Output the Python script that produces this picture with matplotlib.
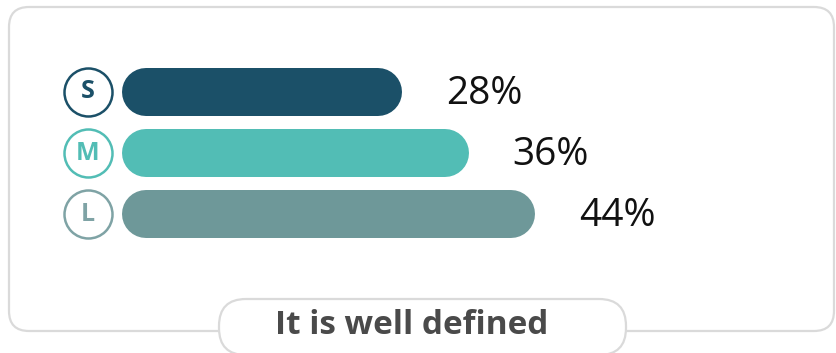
import matplotlib.pyplot as plt
from matplotlib.patches import FancyBboxPatch

plt.rcParams['font.family'] = ['Open Sans', 'DejaVu Sans']

sizes = ["S", "M", "L"]
shares = [28, 36, 44]
colors = ["#1b5068", "#52bdb5", "#6e9899"]
ring_colors = ["#1b5068", "#52bdb5", "#7fa3a5"]
caption = "It is well defined"

W, H = 836, 353
fig = plt.figure(figsize=(W / 100, H / 100), dpi=100)

# card frame and caption pill, in pixel units
bg = fig.add_axes([0, 0, 1, 1])
bg.set_xlim(0, W)
bg.set_ylim(H, 0)
bg.axis("off")
card = FancyBboxPatch((9, 7), 825, 324, boxstyle="round,pad=0,rounding_size=20",
                      facecolor="white", edgecolor="#dadada", lw=1.6)
bg.add_patch(card)
pill = FancyBboxPatch((219, 299), 407, 56, boxstyle="round,pad=0,rounding_size=27",
                      facecolor="white", edgecolor="#dadada", lw=1.6)
bg.add_patch(pill)
bg.text(412, 325, caption, ha="center", va="center", fontsize=24,
        fontweight="bold", color="#4a4a4a")

# bars: 8.3 px per percent, x=0 at 146 px
px_per = 8.3
x0 = 146
ax = fig.add_axes([x0 / W, 1 - 245 / H, (W - x0) / W, 184 / H])
ax.set_xlim(0, (W - x0) / px_per)
ax.set_ylim(2.5, -0.5)
ax.axis("off")
ax.patch.set_alpha(0)

bar_pt = 48 * 72 / 100
for i, (s, v, c, rc) in enumerate(zip(sizes, shares, colors, ring_colors)):
    ax.plot([0, v], [i, i], color=c, lw=bar_pt, solid_capstyle="round", clip_on=False)
    ax.scatter([-58 / px_per], [i], s=(48 * 72 / 100) ** 2, facecolor="white",
               edgecolor=rc, lw=1.8, clip_on=False, zorder=3)
    ax.text(-58 / px_per, i, s, ha="center", va="center", fontsize=18,
            fontweight="bold", color=rc, zorder=4, clip_on=False)
    ax.annotate(f"{v}%", (v, i), xytext=(68, -2), textcoords="offset pixels",
                ha="left", va="center", fontsize=28, color="#111111")

fig.savefig("out.png", dpi=100)
